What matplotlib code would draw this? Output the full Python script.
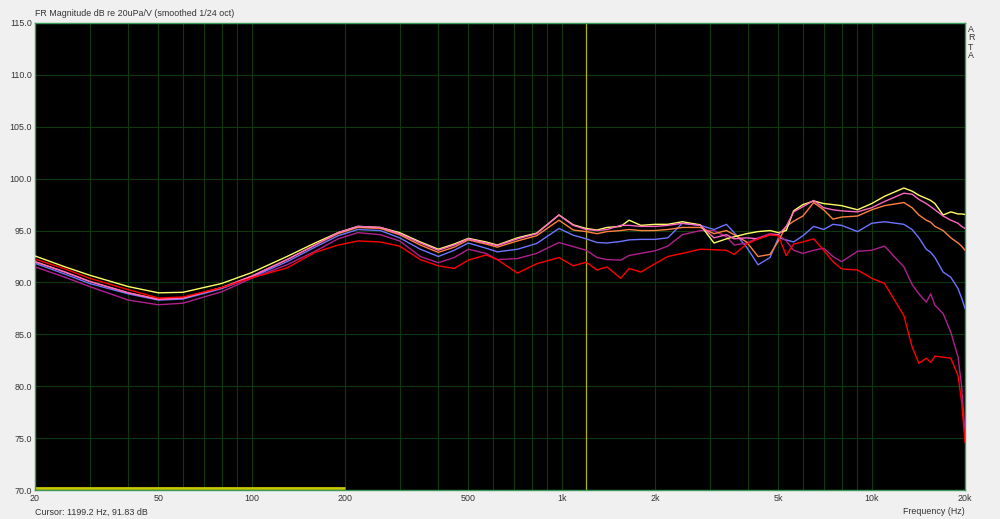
import matplotlib
matplotlib.use("Agg")
import matplotlib.pyplot as plt
from matplotlib.ticker import FixedLocator, NullFormatter

# frequency grid (Hz) shared by all measurements
freqs = [20, 25, 30, 40, 50, 60, 80, 100, 130, 160, 190, 220, 260, 300, 350,
         400, 450, 500, 570, 620, 720, 830, 980, 1090, 1200, 1300, 1400, 1550,
         1650, 1800, 2000, 2200, 2450, 2800, 3100, 3400, 3600, 3950, 4300, 4700,
         5000, 5300, 5600, 6000, 6500, 7000, 7500, 8000, 9000, 10000, 11000,
         12700, 13500, 14200, 15000, 15500, 16000, 17000, 18000, 19000, 19500,
         20000]

yellow = [92.55, 91.5, 90.7, 89.6, 89.0, 89.05, 89.9, 90.95, 92.5, 93.8, 94.8,
          95.4, 95.3, 94.8, 93.9, 93.2, 93.7, 94.25, 93.9, 93.6, 94.3, 94.75,
          96.5, 95.55, 95.2, 95.05, 95.3, 95.4, 96.0, 95.5, 95.6, 95.6, 95.85,
          95.55, 93.8, 94.2, 94.4, 94.7, 94.9, 95.0, 94.8, 95.0, 96.9, 97.5,
          97.85, 97.6, 97.5, 97.4, 97.0, 97.6, 98.3, 99.1, 98.8, 98.4, 98.1,
          97.9, 97.6, 96.5, 96.8, 96.6, 96.6, 96.55]
pink = [92.0, 91.0, 90.1, 89.0, 88.35, 88.5, 89.5, 90.6, 92.2, 93.6, 94.8,
        95.4, 95.3, 94.7, 93.8, 93.1, 93.6, 94.2, 93.8, 93.55, 94.2, 94.7,
        96.5, 95.5, 95.1, 95.0, 95.1, 95.5, 95.5, 95.4, 95.4, 95.5, 95.7,
        95.5, 94.3, 94.6, 94.2, 94.3, 94.2, 94.6, 94.6, 95.4, 96.8, 97.3,
        97.9, 97.2, 97.0, 96.9, 96.8, 97.2, 97.8, 98.6, 98.5, 98.0, 97.6,
        97.3, 97.0, 96.4, 96.0, 95.7, 95.4, 95.2]
orange = [92.0, 91.0, 90.1, 89.0, 88.4, 88.5, 89.5, 90.6, 92.2, 93.6, 94.7,
          95.3, 95.2, 94.6, 93.6, 92.9, 93.4, 94.1, 93.7, 93.4, 94.0, 94.5,
          96.0, 95.05, 94.9, 94.7, 94.9, 95.0, 95.1, 95.0, 95.0, 95.1, 95.3,
          95.3, 94.7, 95.0, 94.6, 93.9, 92.5, 92.7, 94.0, 95.4, 95.9, 96.4,
          97.7, 97.0, 96.1, 96.3, 96.4, 97.0, 97.4, 97.7, 97.2, 96.5, 96.0,
          95.8, 95.4, 95.0, 94.3, 93.8, 93.5, 93.1]
blue = [91.85, 90.8, 89.9, 88.9, 88.3, 88.4, 89.4, 90.5, 92.0, 93.4, 94.5,
        95.1, 95.0, 94.3, 93.2, 92.5, 93.1, 93.8, 93.3, 92.95, 93.2, 93.75,
        95.2, 94.55, 94.2, 93.85, 93.8, 93.95, 94.1, 94.15, 94.15, 94.3, 95.7,
        95.5, 95.1, 95.6, 94.8, 93.4, 91.7, 92.4, 94.3, 94.1, 93.9, 94.5,
        95.4, 95.1, 95.6, 95.5, 94.9, 95.7, 95.85, 95.6, 95.1, 94.3, 93.2,
        92.9, 92.4, 91.0, 90.5, 89.4, 88.5, 87.5]
purple = [91.5, 90.5, 89.6, 88.3, 87.85, 88.0, 89.1, 90.4, 91.7, 93.0, 94.2,
          94.8, 94.6, 94.0, 92.5, 91.9, 92.4, 93.2, 92.8, 92.2, 92.3, 92.8,
          93.85, 93.45, 93.1, 92.4, 92.2, 92.15, 92.6, 92.8, 93.05, 93.5, 94.6,
          95.0, 95.0, 94.4, 93.6, 93.8, 94.3, 94.7, 94.6, 94.0, 93.1, 92.8,
          93.1, 93.3, 92.5, 92.0, 93.0, 93.1, 93.5, 91.5, 89.8, 88.9, 88.1,
          88.9, 87.8, 87.0, 85.2, 82.8, 80.0, 75.5]
red = [92.25, 91.3, 90.4, 89.3, 88.5, 88.6, 89.5, 90.45, 91.4, 92.9, 93.6,
       94.0, 93.9, 93.5, 92.2, 91.6, 91.35, 92.15, 92.65, 92.2, 90.9, 91.8,
       92.4, 91.6, 91.95, 91.2, 91.5, 90.4, 91.35, 91.0, 91.8, 92.5, 92.8,
       93.2, 93.15, 93.1, 92.7, 93.7, 94.2, 94.6, 94.5, 92.6, 93.7, 93.9,
       94.2, 93.1, 92.0, 91.3, 91.2, 90.4, 89.9, 86.8, 83.8, 82.2, 82.7,
       82.3, 82.9, 82.8, 82.7, 81.0, 78.5, 74.6]

series = [
    (blue, "#6e74ff"),
    (purple, "#b0208e"),
    (orange, "#ff8040"),
    (yellow, "#ffff66"),
    (pink, "#ff66c4"),
    (red, "#ff0000"),
]

cursor_freq = 1199.2
major_ticks = [20, 50, 100, 200, 500, 1000, 2000, 5000, 10000, 20000]
major_labels = ["20", "50", "100", "200", "500", "1k", "2k", "5k", "10k", "20k"]
db_ticks = [70, 75, 80, 85, 90, 95, 100, 105, 110, 115]

grid_freqs = [m * 10 ** e for e in range(1, 5) for m in range(1, 10)
              if 20 < m * 10 ** e < 20000]

TEXT = "#333333"
GRID = "#0d3a0d"
FRAME = "#3a9a5a"
FONT = "Liberation Sans"
FS = 6.4

fig = plt.figure(figsize=(10, 5.19), dpi=100)
fig.patch.set_facecolor("#f0f0f0")
ax = fig.add_axes([0.035, 29 / 519, 0.93, 467 / 519])
ax.set_facecolor("black")

ax.set_xscale("log")
ax.set_xlim(20, 20000)
ax.set_ylim(70, 115)

for f in grid_freqs:
    ax.axvline(f, color=GRID, linewidth=0.8, zorder=1)
for d in db_ticks[1:-1]:
    ax.axhline(d, color=GRID, linewidth=0.8, zorder=1)

ax.axvline(cursor_freq, color="#b4b400", linewidth=0.9, zorder=2)
ax.plot([20, 200], [70.15, 70.15], color="#c8c800", linewidth=2.0, zorder=2,
        solid_capstyle="butt")

for vals, col in series:
    ax.plot(freqs, vals, color=col, linewidth=1.0, zorder=3)

ax.xaxis.set_major_locator(FixedLocator(major_ticks))
ax.xaxis.set_minor_locator(FixedLocator([]))
ax.xaxis.set_minor_formatter(NullFormatter())
ax.set_xticks(major_ticks)
ax.set_xticklabels(major_labels, fontsize=FS, color=TEXT, family=FONT)
ax.set_yticks(db_ticks)
ax.set_yticklabels([f"{d:.1f}" for d in db_ticks], fontsize=FS, color=TEXT,
                   family=FONT)
ax.tick_params(axis="both", length=0, pad=3)
ax.tick_params(axis="y", pad=2)

for s in ax.spines.values():
    s.set_color(FRAME)
    s.set_linewidth(1.0)

fig.text(0.035, 1 - 14 / 519, "FR Magnitude dB re 20uPa/V (smoothed 1/24 oct)",
         fontsize=FS, color=TEXT, family=FONT, va="center", ha="left")
fig.text(0.035, 1 - 512 / 519, "Cursor: 1199.2 Hz, 91.83 dB",
         fontsize=FS, color=TEXT, family=FONT, va="center", ha="left")
fig.text(0.965, 1 - 512 / 519, "Frequency (Hz)",
         fontsize=FS, color=TEXT, family=FONT, va="center", ha="right")
for i, ch in enumerate("ARTA"):
    fig.text(0.971, 1 - (29 + i * 9.0) / 519, ch, fontsize=FS, color=TEXT,
             family=FONT, va="center", ha="center")

fig.savefig("out.png", dpi=100, facecolor=fig.get_facecolor())
